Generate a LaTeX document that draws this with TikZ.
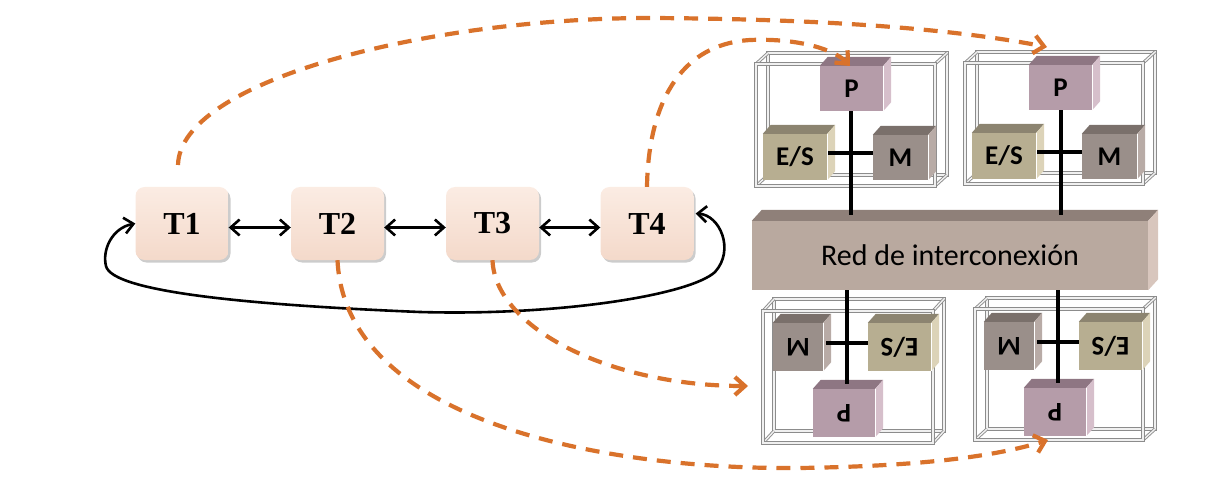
\documentclass[tikz,border=0pt]{standalone}
\usepackage{fontspec}
\setmainfont{Liberation Serif}
\newfontfamily\calib{Carlito}
\usepackage{graphicx}
\usetikzlibrary{arrows.meta,calc,shadows}
\definecolor{orng}{HTML}{D9722B}
\definecolor{ttop}{HTML}{FBECE3}
\definecolor{tbot}{HTML}{F4D9CA}
\definecolor{netF}{HTML}{B9A99F}
\definecolor{netT}{HTML}{8F8079}
\definecolor{netS}{HTML}{D8C6BD}
\definecolor{pF}{HTML}{B59CA9}
\definecolor{pT}{HTML}{8E7683}
\definecolor{pS}{HTML}{D6BFCB}
\definecolor{eF}{HTML}{B7AE91}
\definecolor{eT}{HTML}{8C8470}
\definecolor{eS}{HTML}{DCD3B8}
\definecolor{mF}{HTML}{9A8F8A}
\definecolor{mT}{HTML}{7A706B}
\definecolor{mS}{HTML}{B8ABA6}
\definecolor{wirec}{HTML}{8C8C8C}
\tikzset{
  tbox/.style={rounded corners=9pt, minimum width=93pt, minimum height=73pt,
    top color=ttop, bottom color=tbot, draw=none,
    drop shadow={opacity=0.4, shadow xshift=2pt, shadow yshift=-2.5pt},
    font=\bfseries\fontsize{32}{32}\selectfont},
  cubefront/.style={inner sep=0pt, draw=none, font=\calib\bfseries\fontsize{27}{27}\selectfont},
  netfront/.style={inner sep=0pt, draw=none, fill=netF, minimum width=396pt, minimum height=69pt,
    font=\calib\fontsize{30}{30}\selectfont},
  wire/.style={draw=wirec, line width=0.9pt, double=white!88!gray, double distance=1.4pt},
  blk/.style={line width=2.6pt, black},
  myb/.tip={Straight Barb[length=9pt,width=16pt]},
  orb/.tip={Straight Barb[length=10pt,width=18pt]},
  orngline/.style={draw=orng, line width=4.2pt, dash pattern=on 14pt off 10pt, -orb},
  bus/.style={line width=4pt, black}
}
% #1 name, #2 x, #3 y, #4 w, #5 h, #6 front, #7 top, #8 side, #9 label
\newcommand{\cubebox}[9]{%
  \node[cubefront, fill=#6, minimum width=#4pt, minimum height=#5pt] (#1) at (#2,#3) {#9};
  \fill[#7] (#1.north west) -- ($(#1.north west)+(8,-9)$) -- ($(#1.north east)+(8,-9)$) -- (#1.north east) -- cycle;
  \fill[#8] (#1.north east) -- ($(#1.north east)+(8,-9)$) -- ($(#1.south east)+(8,-9)$) -- (#1.south east) -- cycle;
  \draw[white, line width=0.8pt] (#1.north east) -- (#1.south east);
}
% #1 x1, #2 y1, #3 x2, #4 y2, #5 dx, #6 dy
\newcommand{\wirebox}[6]{%
  \draw[wire] ($(#1,#2)+(#5,#6)$) rectangle ($(#3,#4)+(#5,#6)$);
  \draw[wire] (#1,#2) -- ($(#1,#2)+(#5,#6)$);
  \draw[wire] (#3,#2) -- ($(#3,#2)+(#5,#6)$);
  \draw[wire] (#1,#4) -- ($(#1,#4)+(#5,#6)$);
  \draw[wire] (#3,#4) -- ($(#3,#4)+(#5,#6)$);
  \draw[wire] (#1,#2) rectangle (#3,#4);
}
\begin{document}
\begin{tikzpicture}[x=1pt,y=-1pt]
\useasboundingbox (0,0) rectangle (1227,492);

% task nodes
\node[tbox] (T1) at (182,223.5) {T1};
\node[tbox] (T2) at (337.5,223.5) {T2};
\node[tbox] (T3) at (492.5,223.5) {T3};
\node[tbox] (T4) at (647,223.5) {T4};

\draw[blk, myb-myb] ($(T1.east)+(0,4)$) -- ($(T2.west)+(0,4)$);
\draw[blk, myb-myb] ($(T2.east)+(0,4)$) -- ($(T3.west)+(0,4)$);
\draw[blk, myb-myb] ($(T3.east)+(0,4)$) -- ($(T4.west)+(0,4)$);

\coordinate (t4in) at ($(T4.east)+(2,-10)$);
\draw[blk, myb-myb] (T1.west) .. controls (112,228) and (102,250) .. (106,266)
  .. controls (112,292) and (250,305) .. (420,312)
  .. controls (560,316) and (690,295) .. (715,272)
  .. controls (735,250) and (720,215) .. (t4in);

% wire boxes
\wirebox{756}{64}{935}{186}{12}{-11}
\wirebox{965}{63}{1143}{184}{12}{-11}
\wirebox{763}{311}{933}{443}{11}{-12}
\wirebox{975}{309}{1143}{440}{12}{-11}

% network
\node[netfront] (net) at (950,255.5) {Red de interconexi\'on};
\fill[netT] (net.north west) -- ($(net.north west)+(10,-11)$) -- ($(net.north east)+(10,-11)$) -- (net.north east) -- cycle;
\fill[netS] (net.north east) -- ($(net.north east)+(10,-11)$) -- ($(net.south east)+(10,-11)$) -- (net.south east) -- cycle;
\coordinate (ntop) at (0,215);

% top-left unit
\cubebox{TLP}{851.5}{88.5}{63}{45}{pF}{pT}{pS}{P}
\cubebox{TLE}{795}{157}{64}{46}{eF}{eT}{eS}{E/S}
\cubebox{TLM}{900.5}{157.5}{55}{45}{mF}{mT}{mS}{M}
% top-right unit
\cubebox{TRP}{1060.5}{87.5}{63}{45}{pF}{pT}{pS}{P}
\cubebox{TRE}{1004}{156}{64}{46}{eF}{eT}{eS}{E/S}
\cubebox{TRM}{1109.5}{156.5}{55}{45}{mF}{mT}{mS}{M}
% bottom-left unit
\cubebox{BLM}{798}{347}{50}{48}{mF}{mT}{mS}{\rotatebox{180}{M}}
\cubebox{BLE}{899.5}{347}{63}{48}{eF}{eT}{eS}{\rotatebox{180}{E/S}}
\cubebox{BLP}{844}{413}{62}{48}{pF}{pT}{pS}{\rotatebox{180}{P}}
% bottom-right unit
\cubebox{BRM}{1009}{346}{50}{48}{mF}{mT}{mS}{\rotatebox{180}{M}}
\cubebox{BRE}{1110.5}{346}{63}{48}{eF}{eT}{eS}{\rotatebox{180}{E/S}}
\cubebox{BRP}{1055}{412}{62}{48}{pF}{pT}{pS}{\rotatebox{180}{P}}

% buses
\draw[bus] ($(TLP.south)+(-1,0)$) -- ($(TLP.south |- ntop)+(-1,0)$);
\draw[bus] ($(TLE.east)+(1,-4)$) -- ($(TLM.west)+(0,-4.5)$);
\draw[bus] (TRP.south) -- (TRP.south |- ntop);
\draw[bus] ($(TRE.east)+(1,-4)$) -- ($(TRM.west)+(0,-4.5)$);
\draw[bus] ($(BLP.north |- net.south)+(3,0)$) -- ($(BLP.north)+(3,-5)$);
\draw[bus] ($(BLM.east)+(3,-4)$) -- ($(BLE.west)+(0,-4)$);
\draw[bus] ($(BRP.north |- net.south)+(3,0)$) -- ($(BRP.north)+(3,-5)$);
\draw[bus] ($(BRM.east)+(3,-4)$) -- ($(BRE.west)+(0,-4)$);

% dashed mapping arrows
\coordinate (o1s) at (178,165);
\coordinate (o1e) at (1047,47);
\draw[orngline] (o1s) .. controls (180,80) and (430,18) .. (650,18)
  .. controls (850,19) and (970,32) .. (o1e);
\coordinate (o2e) at (850,66);
\draw[orngline] (T4.north) .. controls (648,120) and (670,45) .. (750,40)
  .. controls (800,38) and (835,50) .. (o2e);
\coordinate (o3e) at (748,386);
\draw[orngline] (T3.south) .. controls (495,328) and (610,386) .. (o3e);
\coordinate (o4e) at (1048,440);
\draw[orngline] (T2.south) .. controls (345,420) and (600,470) .. (800,468)
  .. controls (930,466) and (1000,455) .. (o4e);
\end{tikzpicture}
\end{document}
